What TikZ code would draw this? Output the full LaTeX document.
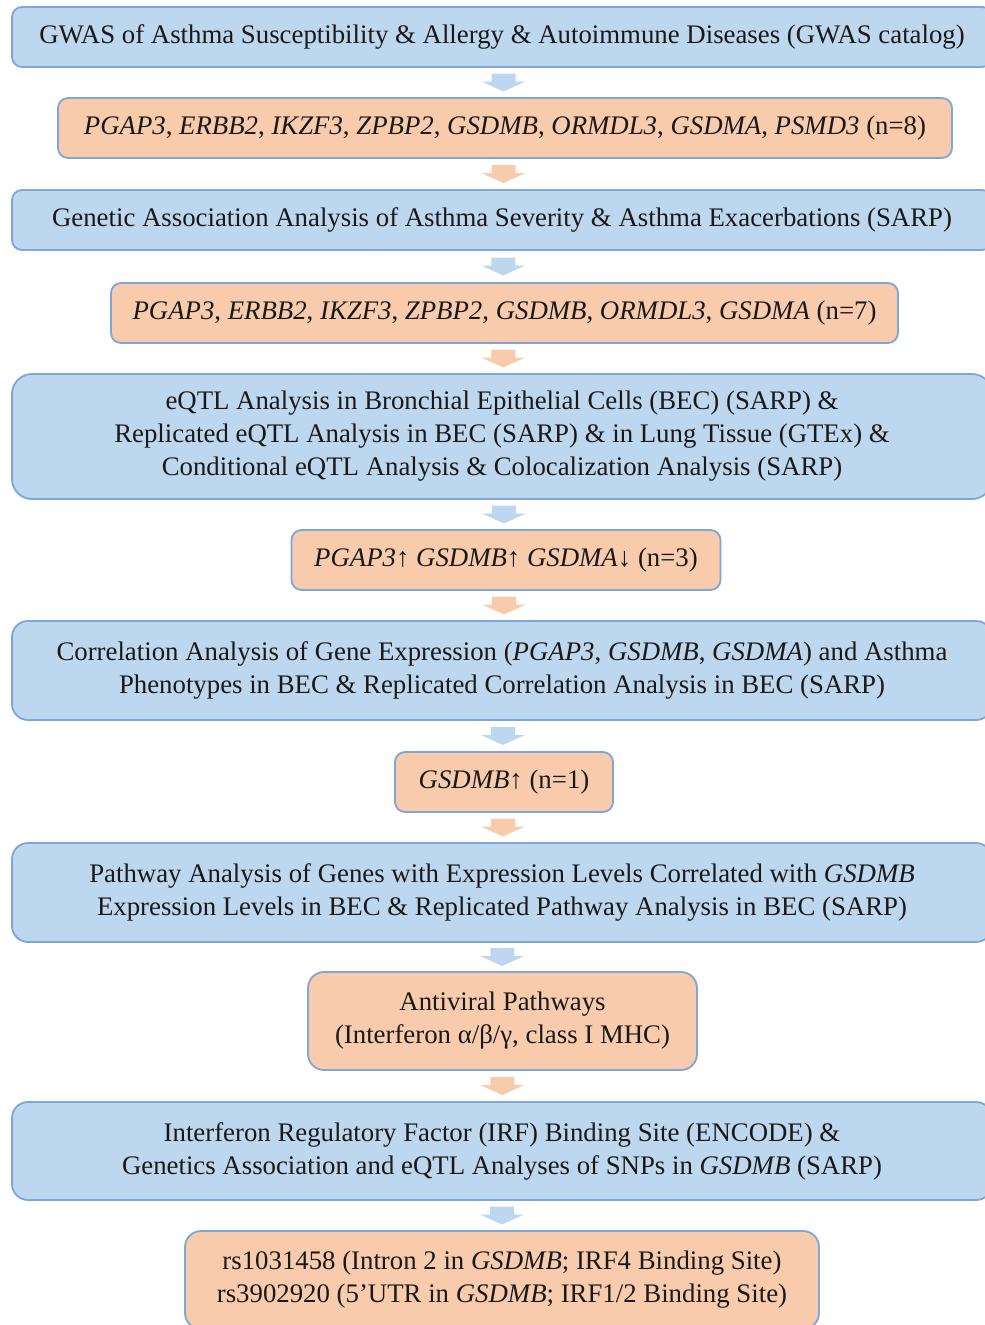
\documentclass[tikz,border=0pt]{standalone}
\usepackage{fontspec}
\setmainfont{Liberation Serif}
\usetikzlibrary{calc}
\definecolor{bfill}{HTML}{BDD7EE}
\definecolor{ofill}{HTML}{F8CBAD}
\definecolor{edge}{HTML}{7EA6D9}
\tikzset{
  boxbase/.style={draw=edge, line width=1.8pt, align=center, inner sep=0pt,
    font=\fontsize{26.8}{33}\selectfont, text=black!90},
  bbox/.style={boxbase, fill=bfill},
  obox/.style={boxbase, fill=ofill},
}
\newcommand\flowarrow[3]{\fill[#3] ($(#1.south)!0.5!(#2.north)$) ++(-12,-9) -- ++(24,0) -- ++(0,8) -- ++(10,0) -- ++(-22,10) -- ++(-22,-10) -- ++(10,0) -- cycle;}
\begin{document}
\begin{tikzpicture}[x=1pt,y=-1pt]
\useasboundingbox (0,0) rectangle (985,1325);
\clip (0,0) rectangle (985,1325);
\node[bbox, minimum width=980pt, minimum height=60pt, rounded corners=10pt] (b1) at (502,37)
  {GWAS of Asthma Susceptibility \& Allergy \& Autoimmune Diseases (GWAS catalog)};
\node[obox, minimum width=894pt, minimum height=60pt, rounded corners=10pt] (b2) at (505,128)
  {\textit{PGAP3}, \textit{ERBB2}, \textit{IKZF3}, \textit{ZPBP2}, \textit{GSDMB}, \textit{ORMDL3}, \textit{GSDMA}, \textit{PSMD3} (n=8)};
\node[bbox, minimum width=980pt, minimum height=60pt, rounded corners=10pt] (b3) at (502,220)
  {Genetic Association Analysis of Asthma Severity \& Asthma Exacerbations (SARP)};
\node[obox, minimum width=787pt, minimum height=60pt, rounded corners=10pt] (b4) at (504.5,313)
  {\textit{PGAP3}, \textit{ERBB2}, \textit{IKZF3}, \textit{ZPBP2}, \textit{GSDMB}, \textit{ORMDL3}, \textit{GSDMA} (n=7)};
\node[bbox, minimum width=980pt, minimum height=125pt, rounded corners=20pt] (b5) at (502,436.5)
  {eQTL Analysis in Bronchial Epithelial Cells (BEC) (SARP) \&\\
   Replicated eQTL Analysis in BEC (SARP) \& in Lung Tissue (GTEx) \&\\
   Conditional eQTL Analysis \& Colocalization Analysis (SARP)};
\node[obox, minimum width=429pt, minimum height=60pt, rounded corners=10pt] (b6) at (506,560)
  {\textit{PGAP3}↑ \textit{GSDMB}↑ \textit{GSDMA}↓ (n=3)};
\node[bbox, minimum width=980pt, minimum height=99pt, rounded corners=16pt] (b7) at (502,670.5)
  {Correlation Analysis of Gene Expression (\textit{PGAP3}, \textit{GSDMB}, \textit{GSDMA}) and Asthma\\
   Phenotypes in BEC \& Replicated Correlation Analysis in BEC (SARP)};
\node[obox, minimum width=218pt, minimum height=60pt, rounded corners=10pt] (b8) at (504,782)
  {\textit{GSDMB}↑ (n=1)};
\node[bbox, minimum width=980pt, minimum height=99pt, rounded corners=16pt] (b9) at (502,892.5)
  {Pathway Analysis of Genes with Expression Levels Correlated with \textit{GSDMB}\\
   Expression Levels in BEC \& Replicated Pathway Analysis in BEC (SARP)};
\node[obox, minimum width=389pt, minimum height=98pt, rounded corners=16pt] (b10) at (502.5,1021)
  {Antiviral Pathways\\(Interferon α/β/γ, class I MHC)};
\node[bbox, minimum width=980pt, minimum height=98pt, rounded corners=16pt] (b11) at (502,1151)
  {Interferon Regulatory Factor (IRF) Binding Site (ENCODE) \&\\
   Genetics Association and eQTL Analyses of SNPs in \textit{GSDMB} (SARP)};
\node[obox, minimum width=634pt, minimum height=98pt, rounded corners=16pt] (b12) at (502,1280)
  {rs1031458 (Intron 2 in \textit{GSDMB}; IRF4 Binding Site)\\
   rs3902920 (5’UTR in \textit{GSDMB}; IRF1/2 Binding Site)};
\flowarrow{b1}{b2}{bfill}
\flowarrow{b2}{b3}{ofill}
\flowarrow{b3}{b4}{bfill}
\flowarrow{b4}{b5}{ofill}
\flowarrow{b5}{b6}{bfill}
\flowarrow{b6}{b7}{ofill}
\flowarrow{b7}{b8}{bfill}
\flowarrow{b8}{b9}{ofill}
\flowarrow{b9}{b10}{bfill}
\flowarrow{b10}{b11}{ofill}
\flowarrow{b11}{b12}{bfill}
\end{tikzpicture}
\end{document}
